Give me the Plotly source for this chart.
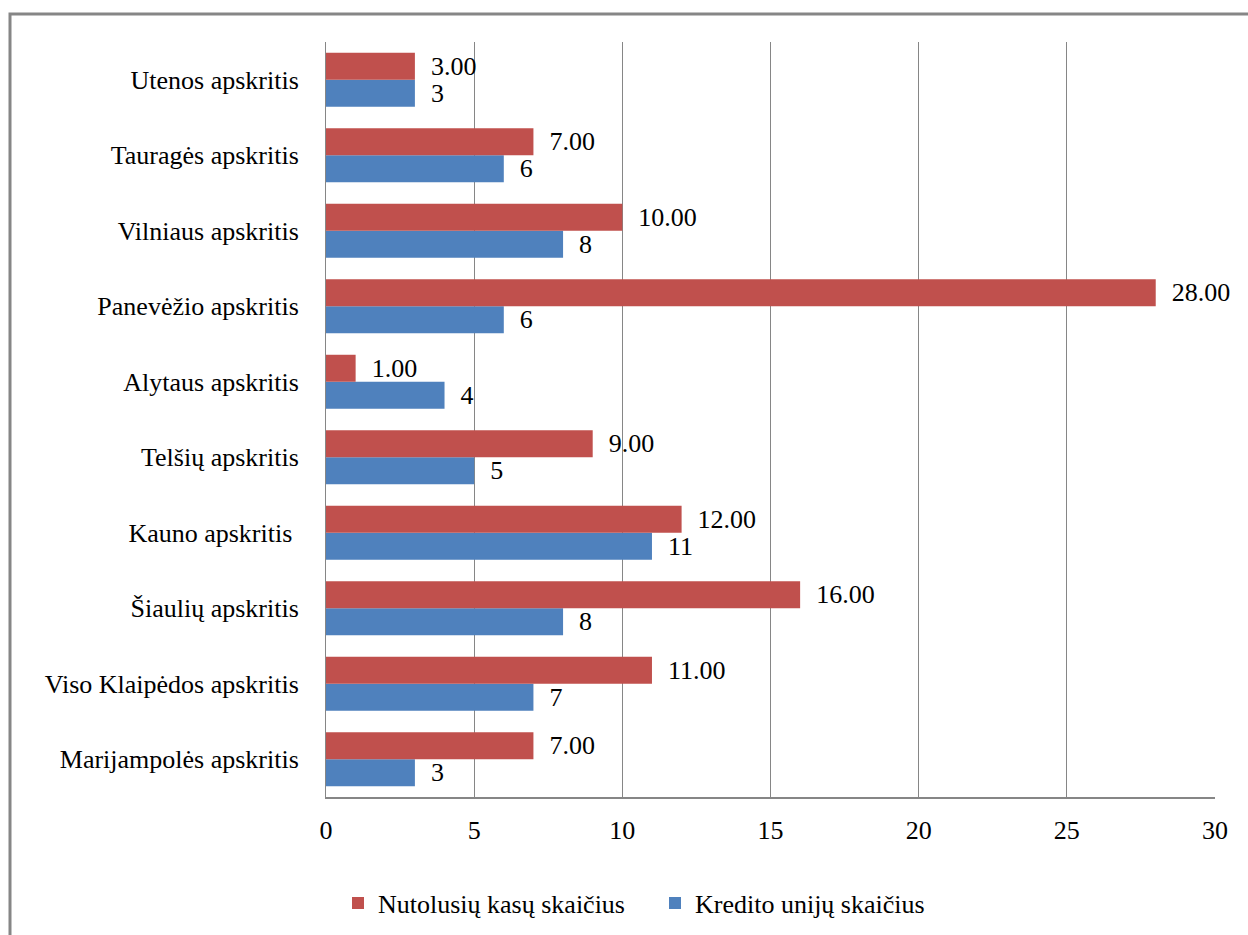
import plotly.graph_objects as go

categories = ["Marijampolės apskritis", "Viso Klaipėdos apskritis", "Šiaulių apskritis",
              "Kauno apskritis\u00a0", "Telšių apskritis", "Alytaus apskritis",
              "Panevėžio apskritis", "Vilniaus apskritis", "Tauragės apskritis", "Utenos apskritis"]
nutolusiu_kasu = [7, 11, 16, 12, 9, 1, 28, 10, 7, 3]
kredito_uniju = [3, 7, 8, 11, 5, 4, 6, 8, 6, 3]
x_ticks = [0, 5, 10, 15, 20, 25, 30]

FONT = "Liberation Serif, Times New Roman, serif"
FS = 26
RED = "#C0504D"
BLUE = "#4F81BD"
GRID = "#868686"

fig = go.Figure()
fig.add_trace(go.Bar(
    y=categories, x=kredito_uniju, orientation="h", name="Kredito unijų skaičius",
    marker=dict(color=BLUE, line=dict(width=0)),
    texttemplate="\u00a0\u00a0%{x}", textposition="outside", cliponaxis=False,
    constraintext="none", textfont=dict(family=FONT, size=FS, color="black"),
    legendrank=2,
))
fig.add_trace(go.Bar(
    y=categories, x=nutolusiu_kasu, orientation="h", name="Nutolusių kasų skaičius",
    marker=dict(color=RED, line=dict(width=0)),
    texttemplate="\u00a0\u00a0%{x:.2f}", textposition="outside", cliponaxis=False,
    constraintext="none", textfont=dict(family=FONT, size=FS, color="black"),
    legendrank=1,
))

W, H = 1248, 935
L, R, T, B = 326, 33, 42, 138
pw, ph = W - L - R, H - T - B

def px_x(px):
    return (px - L) / pw

def px_y(py):
    return (H - B - py) / ph

fig.update_layout(
    width=W, height=H,
    margin=dict(l=L, r=R, t=T, b=B, pad=0, autoexpand=False),
    paper_bgcolor="white", plot_bgcolor="white",
    barmode="group", bargap=0.285, bargroupgap=0,
    font=dict(family=FONT, size=FS, color="black"),
    showlegend=True,
    legend=dict(
        orientation="h", x=px_x(338), xanchor="left", y=px_y(903), yanchor="middle",
        font=dict(family=FONT, size=FS, color="black"),
        entrywidth=272, entrywidthmode="pixels", bgcolor="rgba(0,0,0,0)",
    ),
    xaxis=dict(
        range=[0, 30], tickvals=x_ticks, ticktext=[str(v) for v in x_ticks],
        showgrid=True, gridcolor=GRID, gridwidth=1,
        showline=True, linecolor=GRID, linewidth=2, zeroline=False,
        ticks="", ticklabelstandoff=9, fixedrange=True, automargin=False,
        tickfont=dict(family=FONT, size=FS, color="black"),
    ),
    yaxis=dict(
        type="category", categoryorder="array", categoryarray=categories,
        showgrid=False, showline=True, linecolor=GRID, linewidth=1,
        ticks="", ticklabelstandoff=21, fixedrange=True, automargin=False,
        tickfont=dict(family=FONT, size=FS, color="black"),
    ),
    shapes=[dict(
        type="rect", xref="paper", yref="paper",
        x0=px_x(10), x1=px_x(1300), y0=px_y(1000), y1=px_y(14),
        line=dict(color=GRID, width=3), fillcolor="rgba(0,0,0,0)", layer="below",
    )],
)

fig.write_html("out.html")
